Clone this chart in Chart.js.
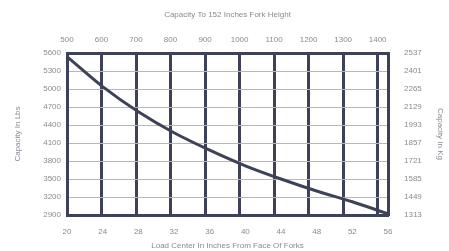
<!DOCTYPE html>
<html>
<head>
<meta charset="utf-8">
<script src="https://cdn.jsdelivr.net/npm/chart.js@4"></script>
<style>
  html, body { margin: 0; padding: 0; background: #fff; }
  #wrap { width: 449px; height: 251px; }
</style>
</head>
<body>
<div id="wrap"><canvas id="capacityChart" width="449" height="251"></canvas></div>
<script>
// load center (inches) along bottom axis
const loadCenters = [20, 24, 28, 32, 36, 40, 44, 48, 52, 56];
// capacity (lbs)
const capacityLbs = [5540, 5040, 4620, 4270, 3980, 3720, 3500, 3300, 3120, 2920];
// tick labels
const topTicks = [500, 600, 700, 800, 900, 1000, 1100, 1200, 1300, 1400];
const lbsTicks = [2900, 3200, 3500, 3800, 4100, 4400, 4700, 5000, 5300, 5600];
const kgTicks = [1313, 1449, 1585, 1721, 1857, 1993, 2129, 2265, 2401, 2537];

const textColor = '#8a8a94';
const darkLine = '#3e4259';
const font = { family: 'Liberation Sans', size: 8 };

function fixTicks(values) {
    return function (scale) {
        scale.ticks = values.map(v => ({ value: v }));
    };
}

// plain numbers, no thousands separator
const plain = v => String(v);

const canvas = document.getElementById('capacityChart');
new Chart(canvas, {
    type: 'line',
    data: {
        datasets: [{
            data: loadCenters.map((x, i) => ({ x: x, y: capacityLbs[i] })),
            borderColor: darkLine,
            borderWidth: 3,
            pointRadius: 0,
            tension: 0.3,
            xAxisID: 'x',
            yAxisID: 'y'
        }]
    },
    options: {
        responsive: false,
        animation: false,
        plugins: {
            legend: { display: false },
            tooltip: { enabled: false }
        },
        layout: { padding: 0 },
        scales: {
            x: {
                type: 'linear',
                position: 'bottom',
                min: 20,
                max: 56,
                afterBuildTicks: fixTicks(loadCenters),
                afterFit: s => { s.height = 36; },
                grid: { display: false },
                border: { color: darkLine, width: 3 },
                ticks: { color: textColor, font: font, padding: 4, callback: plain },
                title: {
                    display: true,
                    text: 'Load Center In Inches From Face Of Forks',
                    color: textColor,
                    font: font,
                    padding: 0
                }
            },
            x2: {
                type: 'linear',
                position: 'top',
                min: 500,
                max: 1430,
                afterBuildTicks: fixTicks(topTicks),
                afterFit: s => { s.height = 53; },
                grid: { color: darkLine, lineWidth: 3, drawTicks: false },
                border: { color: darkLine, width: 3 },
                ticks: { color: textColor, font: font, padding: 8, callback: plain },
                title: {
                    display: true,
                    text: 'Capacity To 152 Inches Fork Height',
                    color: textColor,
                    font: font,
                    padding: { top: 10, bottom: 14 }
                }
            },
            y: {
                position: 'left',
                min: 2900,
                max: 5600,
                afterBuildTicks: fixTicks(lbsTicks),
                afterFit: s => { s.width = 67; },
                grid: { color: '#b4b6c4', lineWidth: 1, drawTicks: false },
                border: { color: darkLine, width: 3 },
                ticks: { color: textColor, font: font, padding: 6, callback: plain },
                title: {
                    display: true,
                    text: 'Capacity In Lbs',
                    color: textColor,
                    font: font,
                    padding: { top: 13, bottom: 0 }
                }
            },
            y2: {
                position: 'right',
                min: 1313,
                max: 2537,
                afterBuildTicks: fixTicks(kgTicks),
                afterFit: s => { s.width = 61; },
                grid: { display: false },
                border: { color: darkLine, width: 3 },
                ticks: { color: textColor, font: font, padding: 8, callback: plain },
                title: {
                    display: true,
                    text: 'Capacity In Kg',
                    color: textColor,
                    font: font,
                    padding: { top: 4, bottom: 0 }
                }
            }
        }
    }
});
</script>
</body>
</html>
